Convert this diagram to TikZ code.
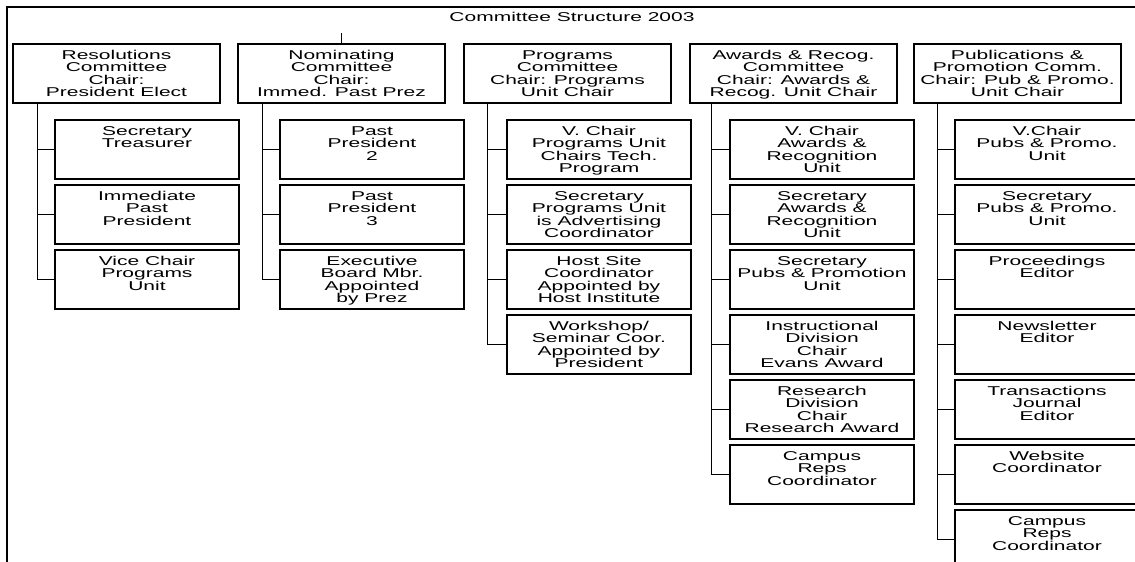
\documentclass[tikz,border=0pt]{standalone}
\usepackage{fontspec}
\setmainfont{Liberation Sans}[FakeStretch=1.64]
\usetikzlibrary{calc}
\newcommand\bt[2]{\parbox[c][59pt][t]{#1pt}{\centering\rule{0pt}{15.3pt}#2}}
\tikzset{
  box/.style={draw, line width=2pt, anchor=north west, inner sep=0pt,
    font=\fontsize{12.8}{12.4}\selectfont},
  conn/.style={draw, line width=1pt},
  frame/.style={draw, line width=2pt}
}
\begin{document}
\begin{tikzpicture}[x=1pt,y=-1pt]
\fill[white] (0,0) rectangle (1135,562);
\useasboundingbox (0,0) rectangle (1135,562);
\draw[frame] (7,6.5) rectangle (1160,600);
\node[font=\fontsize{12.8}{12.4}\selectfont] (title) at (572,17) {Committee Structure 2003};
% top row
\node[box] (r) at (12,43) {\bt{207}{Resolutions\\Committee\\Chair:\\President Elect}};
\node[box] (n) at (237,43) {\bt{207}{Nominating\\Committee\\Chair:\\Immed. Past Prez}};
\node[box] (p) at (463,43) {\bt{207}{Programs\\Committee\\Chair: Programs\\Unit Chair}};
\node[box] (a) at (689,43) {\bt{207}{Awards \& Recog.\\Committee\\Chair: Awards \&\\Recog. Unit Chair}};
\node[box] (u) at (913,43) {\bt{207}{Publications \&\\Promotion Comm.\\Chair: Pub \& Promo.\\Unit Chair}};
\coordinate (stub) at ($(n.north)+(0,-10)$);
\draw[conn] (n.north) -- (stub);
% column 1
\node[box] (r1) at (54,119) {\bt{184}{Secretary\\Treasurer}};
\node[box] (r2) at (54,184) {\bt{184}{Immediate\\Past\\President}};
\node[box] (r3) at (54,249) {\bt{184}{Vice Chair\\Programs\\Unit}};
% column 2
\node[box] (n1) at (279,119) {\bt{184}{Past\\President\\2}};
\node[box] (n2) at (279,184) {\bt{184}{Past\\President\\3}};
\node[box] (n3) at (279,249) {\bt{184}{Executive\\Board Mbr.\\Appointed\\by Prez}};
% column 3
\node[box] (p1) at (506,119) {\bt{184}{V. Chair\\Programs Unit\\Chairs Tech.\\Program}};
\node[box] (p2) at (506,184) {\bt{184}{Secretary\\Programs Unit\\is Advertising\\Coordinator}};
\node[box] (p3) at (506,249) {\bt{184}{Host Site\\Coordinator\\Appointed by\\Host Institute}};
\node[box] (p4) at (506,314) {\bt{184}{Workshop/\\Seminar Coor.\\Appointed by\\President}};
% column 4
\node[box] (a1) at (729,119) {\bt{184}{V. Chair\\Awards \&\\Recognition\\Unit}};
\node[box] (a2) at (729,184) {\bt{184}{Secretary\\Awards \&\\Recognition\\Unit}};
\node[box] (a3) at (729,249) {\bt{184}{Secretary\\Pubs \& Promotion\\Unit}};
\node[box] (a4) at (729,314) {\bt{184}{Instructional\\Division\\Chair\\Evans Award}};
\node[box] (a5) at (729,379) {\bt{184}{Research\\Division\\Chair\\Research Award}};
\node[box] (a6) at (729,444) {\bt{184}{Campus\\Reps\\Coordinator}};
% column 5
\node[box] (u1) at (954,119) {\bt{184}{V.Chair\\Pubs \& Promo.\\Unit}};
\node[box] (u2) at (954,184) {\bt{184}{Secretary\\Pubs \& Promo.\\Unit}};
\node[box] (u3) at (954,249) {\bt{184}{Proceedings\\Editor}};
\node[box] (u4) at (954,314) {\bt{184}{Newsletter\\Editor}};
\node[box] (u5) at (954,379) {\bt{184}{Transactions\\Journal\\Editor}};
\node[box] (u6) at (954,444) {\bt{184}{Website\\Coordinator}};
\node[box] (u7) at (954,509) {\bt{184}{Campus\\Reps\\Coordinator}};
% trunks
\coordinate (rt) at ($(r.south west)+(25,0)$);
\coordinate (nt) at ($(n.south west)+(25,0)$);
\coordinate (pt) at ($(p.south west)+(24,0)$);
\coordinate (at) at ($(a.south west)+(22,0)$);
\coordinate (ut) at ($(u.south west)+(24,0)$);
\foreach \c in {r1,r2,r3} \draw[conn] (rt) |- (\c.west);
\foreach \c in {n1,n2,n3} \draw[conn] (nt) |- (\c.west);
\foreach \c in {p1,p2,p3,p4} \draw[conn] (pt) |- (\c.west);
\foreach \c in {a1,a2,a3,a4,a5,a6} \draw[conn] (at) |- (\c.west);
\foreach \c in {u1,u2,u3,u4,u5,u6,u7} \draw[conn] (ut) |- (\c.west);
\end{tikzpicture}
\end{document}
